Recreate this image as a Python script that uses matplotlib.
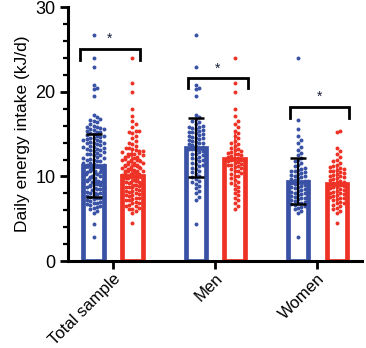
import numpy as np
import matplotlib
matplotlib.use('Agg')
import matplotlib.pyplot as plt

plt.rcParams['font.family'] = ['Liberation Sans', 'DejaVu Sans']

groups = ['Total sample', 'Men', 'Women']

# bar heights (mean) and SD
blue_mean = [11.2, 13.4, 9.4]
blue_lo = [7.6, 9.9, 6.7]
blue_hi = [15.0, 16.9, 12.2]
red_mean = [10.1, 12.1, 9.1]
red_lo = [7.0, 9.1, 7.0]
red_hi = [13.2, 15.1, 11.2]

# individual points (estimated)
men_blue = [4.4, 7.2, 7.6, 8.0, 8.3, 8.6, 8.9, 9.1, 9.3, 9.5, 9.7, 9.9, 10.1, 10.3, 10.5,
            10.7, 10.9, 11.0, 11.2, 11.3, 11.5, 11.6, 11.8, 11.9, 12.1, 12.2, 12.3, 12.5,
            12.6, 12.7, 12.9, 13.0, 13.1, 13.2, 13.3, 13.4, 13.5, 13.6, 13.7, 13.8, 13.9,
            14.0, 14.1, 14.2, 14.3, 14.4, 14.5, 14.6, 14.7, 14.8, 14.9, 15.0, 15.1, 15.2,
            15.3, 15.4, 15.5, 15.6, 15.7, 15.8, 15.9, 16.0, 16.2, 16.4, 16.6, 16.8, 17.0,
            17.3, 19.5, 20.3, 20.5, 20.8, 23.0, 26.7]
men_red = [6.2, 6.5, 6.9, 7.2, 7.5, 7.8, 8.0, 8.3, 8.5, 8.8, 9.0, 9.2, 9.4, 9.6, 9.8, 10.0,
           10.1, 10.3, 10.4, 10.6, 10.7, 10.9, 11.0, 11.1, 11.2, 11.3, 11.4, 11.5, 11.6,
           11.7, 11.8, 11.9, 12.0, 12.0, 12.1, 12.2, 12.3, 12.4, 12.5, 12.6, 12.7, 12.8,
           12.9, 13.0, 13.1, 13.2, 13.4, 13.6, 13.8, 14.0, 14.2, 14.5, 14.8, 15.1, 15.4,
           15.8, 16.2, 16.6, 17.1, 18.0, 20.0, 21.0, 24.0]
women_blue = [2.8, 5.7, 5.9, 6.1, 6.3, 6.4, 6.5, 6.6, 6.7, 6.8, 6.9, 7.0, 7.1, 7.2, 7.3,
              7.4, 7.5, 7.6, 7.7, 7.8, 7.9, 8.0, 8.0, 8.1, 8.2, 8.3, 8.4, 8.5, 8.5, 8.6,
              8.7, 8.8, 8.9, 9.0, 9.0, 9.1, 9.2, 9.3, 9.4, 9.5, 9.5, 9.6, 9.7, 9.8, 9.9,
              10.0, 10.1, 10.2, 10.3, 10.4, 10.5, 10.6, 10.7, 10.8, 10.9, 11.0, 11.2, 11.4,
              11.6, 11.8, 12.0, 12.2, 12.5, 12.8, 13.1, 13.5, 14.0, 14.3, 14.8, 15.6, 16.7,
              24.0]
women_red = [4.5, 5.7, 5.9, 6.1, 6.3, 6.5, 6.6, 6.8, 6.9, 7.0, 7.2, 7.3, 7.4, 7.5, 7.6,
             7.7, 7.8, 7.9, 8.0, 8.1, 8.2, 8.3, 8.4, 8.5, 8.6, 8.7, 8.8, 8.9, 9.0, 9.0,
             9.1, 9.2, 9.3, 9.4, 9.5, 9.6, 9.7, 9.8, 9.9, 10.0, 10.1, 10.2, 10.3, 10.4,
             10.5, 10.6, 10.7, 10.8, 10.9, 11.0, 11.1, 11.2, 11.4, 11.6, 11.8, 12.0, 12.3,
             12.7, 13.0, 13.4, 15.2, 15.4]

blue_pts = [men_blue + women_blue, men_blue, women_blue]
red_pts = [men_red + women_red, men_red, women_red]

# significance brackets: (left, right, top, leg bottom)
brackets = [(-0.32, 0.26, 25.1, 23.8), (-0.27, 0.32, 21.6, 20.4), (-0.27, 0.31, 18.2, 16.9)]

BLUE = '#3a52a5'
RED = '#ee3226'
px_x = 102.0   # pixels per category unit
px_y = 8.45    # pixels per kJ/d


def swarm(vals, half_px, dot=3.4):
    # simple beeswarm, returns x offsets in category units
    vals = np.asarray(vals, float)
    order = np.argsort(vals)
    placed = []
    offs = np.zeros(len(vals))
    cands = [0.0]
    k = 1
    while k * dot <= half_px:
        cands += [k * dot, -k * dot]
        k += 1
    for n, i in enumerate(order):
        y = vals[i] * px_y
        chosen = None
        for c in cands:
            ok = True
            for (px, py) in placed:
                if abs(py - y) < dot and abs(px - c) < dot * 0.95:
                    ok = False
                    break
            if ok:
                chosen = c
                break
        if chosen is None:
            chosen = cands[(n * 3) % len(cands)] * 0.85 + (dot / 2 if n % 2 else -dot / 2)
        placed.append((chosen, y))
        offs[i] = chosen / px_x
    return offs


fig, ax = plt.subplots(figsize=(3.66, 3.48), dpi=100)
fig.subplots_adjust(left=0.186, right=0.99, bottom=0.25, top=0.979)

x = np.arange(len(groups))
dx = 0.19
bw = 0.2
ax.bar(x - dx, blue_mean, width=bw, facecolor='white', edgecolor=BLUE, linewidth=3.4, zorder=1)
ax.bar(x + dx, red_mean, width=bw, facecolor='white', edgecolor=RED, linewidth=3.4, zorder=1)

for i in range(len(groups)):
    ob = swarm(blue_pts[i], 11.5)
    orr = swarm(red_pts[i], 11.5)
    ax.errorbar(x[i] + dx, red_mean[i],
                yerr=[[red_mean[i] - red_lo[i]], [red_hi[i] - red_mean[i]]],
                color=RED, capsize=0, elinewidth=1.2, zorder=1.5)
    ax.scatter(x[i] - dx + ob, blue_pts[i], s=8, color=BLUE, linewidths=0, zorder=2)
    ax.scatter(x[i] + dx + orr, red_pts[i], s=8, color=RED, linewidths=0, zorder=2)
    ax.errorbar(x[i] - dx, blue_mean[i],
                yerr=[[blue_mean[i] - blue_lo[i]], [blue_hi[i] - blue_mean[i]]],
                color='black', capsize=5.5, elinewidth=1.5, capthick=1.8, zorder=3)
    l, r, top, bot = brackets[i]
    ax.plot([x[i] + l, x[i] + l, x[i] + r, x[i] + r], [bot, top, top, bot],
            color='black', lw=2.0, solid_joinstyle='miter', zorder=3)
    ax.text(x[i] + (l + r) / 2, top + 0.35, '*', ha='center', va='bottom',
            fontsize=10, color='#1a1f3a')

ax.set_xlim(-0.44, 2.44)
ax.set_ylim(0, 30)
ax.set_yticks([0, 10, 20, 30])
ax.set_yticks(np.arange(0, 31, 2), minor=True)
ax.set_xticks(x)
ax.set_xticklabels(groups, rotation=45, ha='right', rotation_mode='anchor', fontsize=12)
ax.tick_params(axis='y', labelsize=13, width=2.0, length=6, pad=3)
ax.tick_params(axis='y', which='minor', width=1.6, length=3.6)
ax.tick_params(axis='x', width=2.0, length=6, pad=1)
ax.set_ylabel('Daily energy intake (kJ/d)', fontsize=12.5, labelpad=4)
for s in ['top', 'right']:
    ax.spines[s].set_visible(False)
for s in ['left', 'bottom']:
    ax.spines[s].set_linewidth(2.2)

plt.savefig('out.png', dpi=100)
